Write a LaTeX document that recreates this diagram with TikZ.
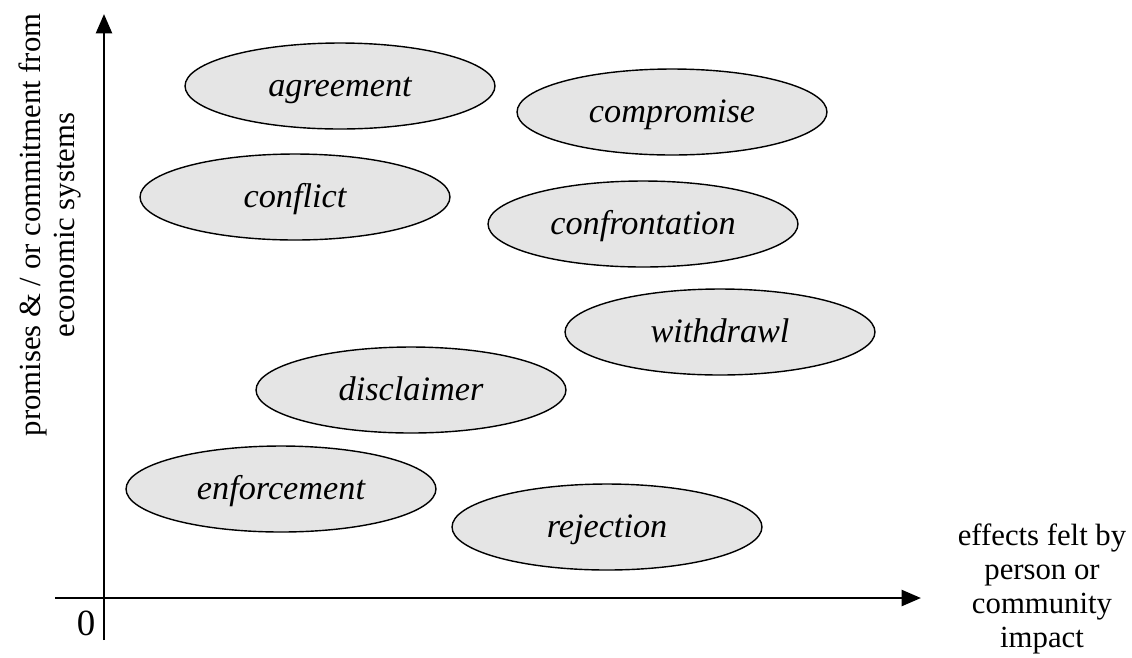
\documentclass[tikz,border=0pt]{standalone}
\usepackage{fontspec}
\setmainfont{Liberation Serif}
\usetikzlibrary{arrows.meta, shapes.geometric}
\tikzset{
    blob/.style={ellipse,draw=black,fill=black!10,line width=0.8pt,
        minimum width=6.2cm,minimum height=1.72cm,inner sep=0pt,
        text height=12pt,text depth=0pt,
        font=\fontsize{19.5}{21}\selectfont\itshape},
    axis/.style={line width=1.6pt,-{Triangle[length=11pt,width=9pt]}},
    lbl/.style={align=center,inner sep=0pt,font=\fontsize{17.5}{19.5}\selectfont},
}
\begin{document}
\begin{tikzpicture}[x=0.02cm,y=-0.02cm]
\useasboundingbox (0,0) rectangle (1132,657);
% axes
\coordinate (o) at (104,598);
\coordinate (ytop) at (104,14);
\coordinate (ybot) at (104,640);
\coordinate (xl) at (55,598);
\coordinate (xr) at (921,598);
\draw[axis] (ybot) -- (ytop);
\draw[axis] (xl) -- (xr);
\node[lbl,font=\fontsize{21}{23}\selectfont] (zero) at (86,623) {0};
\node[lbl,rotate=90] (ylab) at (50,225) {promises \& / or commitment from\\economic systems};
\node[lbl] (xlab) at (1042,589) {effects felt by\\person or\\community\\impact};
% the eight regions
\node[blob] (agree) at (340,86) {agreement};
\node[blob] (comp) at (672,112) {compromise};
\node[blob] (confl) at (295,197) {conflict};
\node[blob] (confr) at (643,224) {confrontation};
\node[blob] (withd) at (720,332) {withdrawl};
\node[blob] (discl) at (411,390) {disclaimer};
\node[blob] (enf) at (281,489) {enforcement};
\node[blob] (rej) at (607,527) {rejection};
\end{tikzpicture}
\end{document}
